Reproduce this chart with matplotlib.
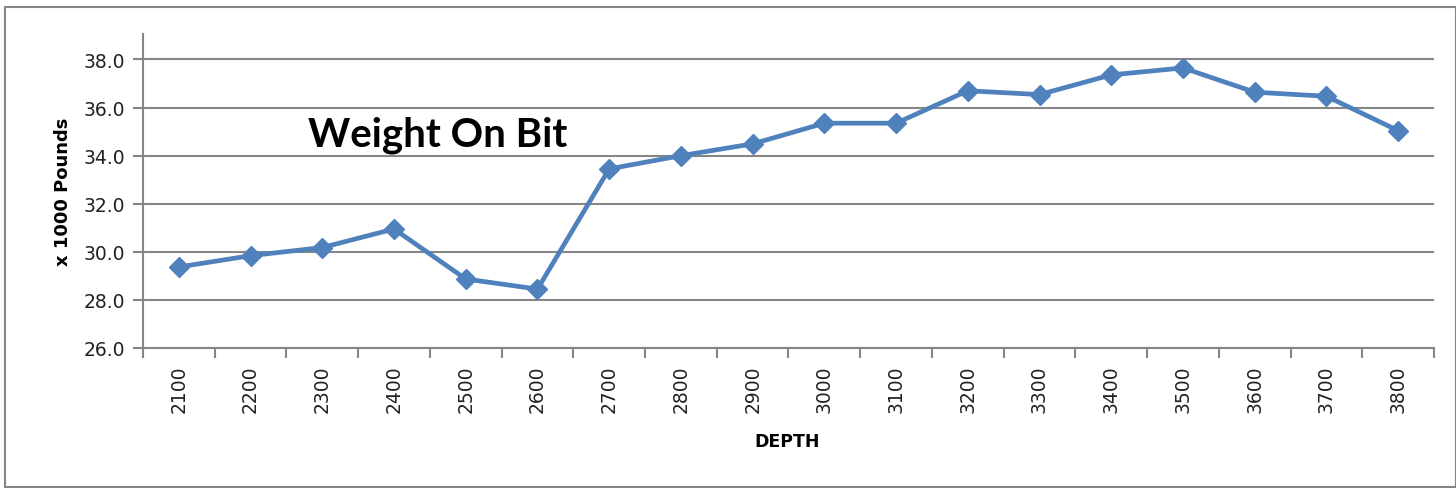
import matplotlib
matplotlib.use("Agg")
import matplotlib.pyplot as plt
import numpy as np
from matplotlib.patches import Rectangle

depths = ['2100', '2200', '2300', '2400', '2500', '2600', '2700', '2800', '2900',
          '3000', '3100', '3200', '3300', '3400', '3500', '3600', '3700', '3800']
weight = [29.37, 29.84, 30.18, 30.95, 28.87, 28.45, 33.45, 34.0, 34.49,
          35.35, 35.35, 36.70, 36.54, 37.36, 37.65, 36.64, 36.47, 35.04]
y_ticks = [26, 28, 30, 32, 34, 36, 38]

grid_col = '#868686'
line_col = '#4F81BD'

fig = plt.figure(figsize=(14.56, 4.89), dpi=100)
ax = fig.add_axes([143/1456, 1 - 349/489, (1434 - 143)/1456, (349 - 35)/489])

x = np.arange(len(depths))
ax.plot(x, weight, color=line_col, linewidth=3.4, marker='D', markersize=10,
        markeredgecolor=line_col, zorder=3)

ax.set_xlim(-0.5, len(depths) - 0.5)
ax.set_ylim(26, 39.06)
ax.set_yticks(y_ticks)
ax.set_yticklabels([f'{v:.1f}' for v in y_ticks], fontsize=13.5, color='#222222')
ax.set_xticks(x)
ax.set_xticklabels(depths, rotation=90, fontsize=13.5, color='#222222')
ax.set_xticks(np.arange(-0.5, len(depths)), minor=True)
ax.tick_params(axis='x', which='major', length=0, pad=12)
ax.tick_params(axis='x', which='minor', length=7, width=1.5, color=grid_col, direction='out')
ax.tick_params(axis='y', length=7, width=1.5, color=grid_col, direction='out', pad=6)

ax.grid(axis='y', color=grid_col, linewidth=1.5, zorder=1)
ax.set_axisbelow(True)
for s in ['top', 'right']:
    ax.spines[s].set_visible(False)
for s in ['left', 'bottom']:
    ax.spines[s].set_color(grid_col)
    ax.spines[s].set_linewidth(1.5)

ax.set_ylabel('x 1000 Pounds', fontsize=13, fontweight='bold', labelpad=8)
fig.text(787/1456, 1 - 442/489, 'DEPTH', fontsize=12.5, fontweight='bold',
         ha='center', va='center')
fig.text(308/1456, 1 - 146/489, 'Weight On Bit', fontsize=29, fontweight='bold',
         family='Lato', ha='left', va='baseline')

fig.patches.append(Rectangle((5/1456, 1/489), 1 - 5/1456, 1 - 9/489,
                             transform=fig.transFigure, fill=False,
                             edgecolor=grid_col, linewidth=1.5))

fig.savefig('out.png', dpi=100)
